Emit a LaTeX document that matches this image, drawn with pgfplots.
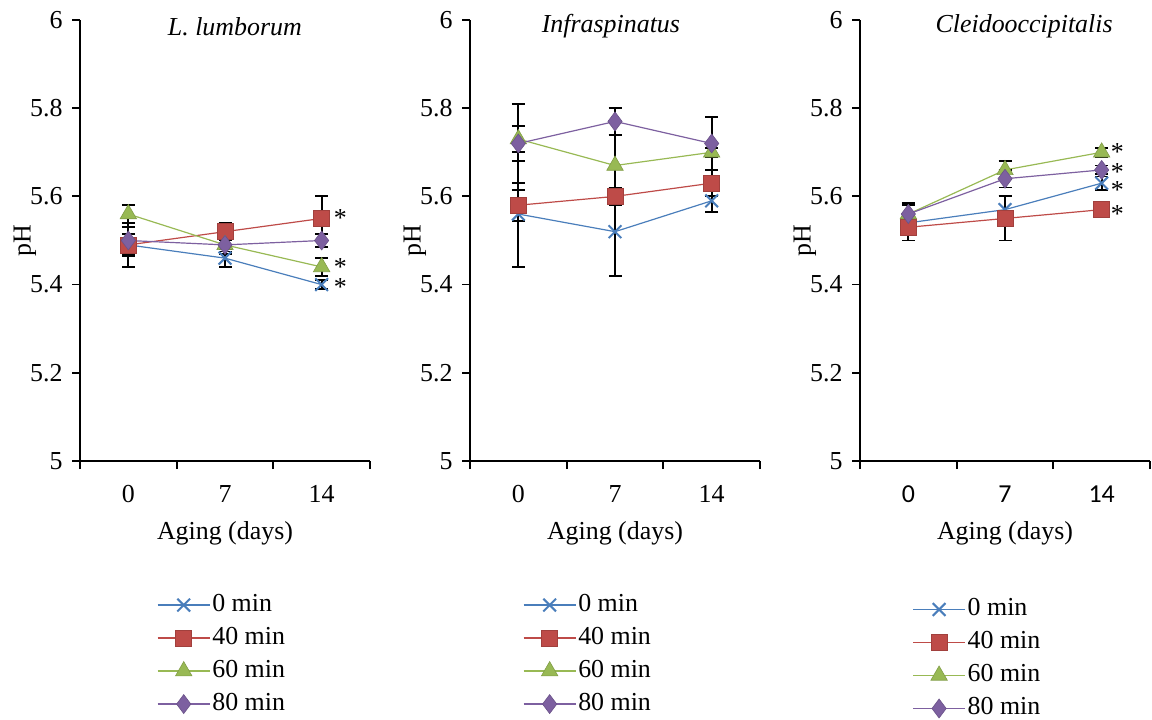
\documentclass[border=0pt]{standalone}
\usepackage{fontspec}
\setmainfont{Liberation Serif}
\newfontfamily\calibri{Carlito}
\usepackage{pgfplots}
\pgfplotsset{compat=1.18}
\definecolor{sblue}{HTML}{4A7EBB}
\definecolor{sred}{HTML}{BE4B48}
\definecolor{sgreen}{HTML}{98B954}
\definecolor{spurple}{HTML}{7D60A0}
\newcommand\fs{\fontsize{26}{30}\selectfont}
\pgfplotsset{
  panel/.style={
    scale only axis, width=290bp, height=441bp,
    xmin=-0.5, xmax=2.5, ymin=5, ymax=6,
    axis x line=bottom, axis y line=left,
    axis line style={-, line width=1.8bp, black},
    ytick={5,5.2,5.4,5.6,5.8,6},
    yticklabels={5,5.2,5.4,5.6,5.8,6},
    xtick={-0.5,0.5,1.5,2.5}, xticklabels={},
    extra x ticks={0,1,2}, extra x tick labels={0,7,14},
    extra x tick style={major tick length=0pt, xticklabel style={yshift=-21bp}},
    tick align=outside, major tick length=8bp,
    tick style={line width=1.8bp, black},
    tick label style={font=\fs},
    yticklabel style={xshift=-6bp},
    label style={font=\fs},
    ylabel={pH}, xlabel={Aging (days)},
    ylabel style={at={(rel axis cs:-0.19,0.5)}, anchor=center, rotate=0},
    xlabel style={at={(rel axis cs:0.5,-0.165)}, anchor=center},
    clip=false,
    legend cell align=left,
    legend image code/.code={\draw[mark repeat=2, mark phase=2] plot coordinates {(0bp,0bp) (26bp,0bp) (52bp,0bp)};},
    error bars/y dir=both, error bars/y explicit,
    error bars/error bar style={line width=1.8bp, black},
    error bars/error mark options={rotate=90, mark size=6.5bp, line width=1.8bp, black},
  },
  s0/.style={sblue, line width=1.2bp, mark=x, mark size=9bp, mark options={line width=2bp}},
  s40/.style={sred, line width=1.2bp, mark=square*, mark size=8bp, mark options={fill=sred, draw=sred!85!black, line width=0.6bp}},
  s60/.style={sgreen, line width=1.2bp, mark=triangle*, mark size=9.5bp, mark options={fill=sgreen, draw=sgreen!85!black, line width=0.6bp}},
  s80/.style={spurple, line width=1.2bp, mark=diamond*, mark size=9.5bp, mark options={fill=spurple, draw=spurple!85!black, line width=0.6bp}},
  lg/.style={legend style={at={(rel axis cs:#1)}, anchor=north west, draw=none, fill=none, font=\fs, row sep=5bp, nodes={inner sep=2bp, text height=18bp, text depth=6bp}}},
}
\begin{document}
\begin{tikzpicture}
\useasboundingbox (0,0) rectangle (1152bp,720bp);
% Panel 1
\begin{axis}[panel, at={(80bp,259bp)}, anchor=south west, lg={0.255,-0.29}]
\addplot[s0] table[x=x,y=y,y error=e] {
x y e
0 5.49 0.025
1 5.46 0.02
2 5.40 0.01
};
\addplot[s40] table[x=x,y=y,y error=e] {
x y e
0 5.49 0.05
1 5.52 0.02
2 5.55 0.05
};
\addplot[s60] table[x=x,y=y,y error=e] {
x y e
0 5.56 0.02
1 5.49 0.02
2 5.44 0.02
};
\addplot[s80] table[x=x,y=y,y error=e] {
x y e
0 5.50 0.03
1 5.49 0.015
2 5.50 0.015
};
\legend{0 min,40 min,60 min,80 min}
\node[font=\fs\itshape] at (rel axis cs:0.534,0.985) {L. lumborum};
\node[font=\fs, anchor=west, inner sep=0pt] at (axis cs:2,5.55) [xshift=12bp] {*};
\node[font=\fs, anchor=west, inner sep=0pt] at (axis cs:2,5.44) [xshift=12bp] {*};
\node[font=\fs, anchor=west, inner sep=0pt] at (axis cs:2,5.395) [xshift=12bp] {*};
\end{axis}
% Panel 2
\begin{axis}[panel, at={(470bp,259bp)}, anchor=south west, lg={0.172,-0.29}]
\addplot[s0] table[x=x,y=y,y error=e] {
x y e
0 5.56 0.12
1 5.52 0.10
2 5.59 0.025
};
\addplot[s40] table[x=x,y=y,y error=e] {
x y e
0 5.58 0.035
1 5.60 0.02
2 5.63 0.03
};
\addplot[s60] table[x=x,y=y,y error=e] {
x y e
0 5.73 0.03
1 5.67 0.07
2 5.70 0.01
};
\addplot[s80] table[x=x,y=y,y error=e] {
x y e
0 5.72 0.09
1 5.77 0.03
2 5.72 0.06
};
\legend{0 min,40 min,60 min,80 min}
\node[font=\fs\itshape] at (rel axis cs:0.486,0.985) {Infraspinatus};
\end{axis}
% Panel 3
\begin{axis}[panel, at={(860bp,259bp)}, anchor=south west, lg={0.17,-0.30},
  extra x tick labels={{\calibri 0},{\calibri 7},{\calibri 14}}]
\addplot[s0] table[x=x,y=y,y error=e] {
x y e
0 5.54 0.02
1 5.57 0.03
2 5.63 0.015
};
\addplot[s40] table[x=x,y=y,y error=e] {
x y e
0 5.53 0.03
1 5.55 0.05
2 5.57 0.01
};
\addplot[s60] table[x=x,y=y,y error=e] {
x y e
0 5.56 0.02
1 5.66 0.02
2 5.70 0.01
};
\addplot[s80] table[x=x,y=y,y error=e] {
x y e
0 5.56 0.025
1 5.64 0.02
2 5.66 0.01
};
\legend{0 min,40 min,60 min,80 min}
\node[font=\fs\itshape] at (rel axis cs:0.566,0.985) {Cleidooccipitalis};
\node[font=\fs, anchor=west, inner sep=0pt] at (axis cs:2,5.70) [xshift=9bp] {*};
\node[font=\fs, anchor=west, inner sep=0pt] at (axis cs:2,5.655) [xshift=9bp] {*};
\node[font=\fs, anchor=west, inner sep=0pt] at (axis cs:2,5.615) [xshift=9bp] {*};
\node[font=\fs, anchor=west, inner sep=0pt] at (axis cs:2,5.56) [xshift=9bp] {*};
\end{axis}
\end{tikzpicture}
\end{document}
